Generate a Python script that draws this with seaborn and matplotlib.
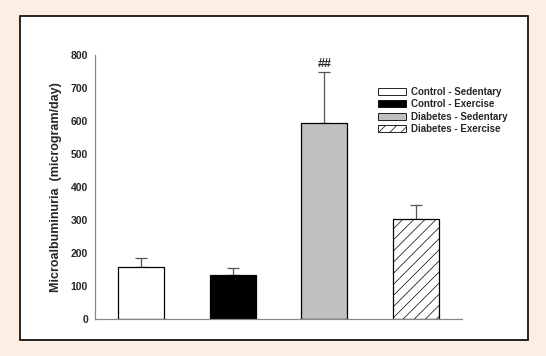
import matplotlib
matplotlib.use('Agg')
import matplotlib.pyplot as plt
import matplotlib.patches as mpatches
import seaborn as sns
import numpy as np

# Data
groups = ['Control - Sedentary', 'Control - Exercise', 'Diabetes - Sedentary', 'Diabetes - Exercise']
means = [159, 133, 594, 303]
sem = [25, 21, 154, 43]
colors = ['#ffffff', '#000000', '#c0c0c0', '#ffffff']

sns.set_style('white')
plt.rcParams['font.family'] = ['Liberation Sans', 'DejaVu Sans']
plt.rcParams['hatch.linewidth'] = 0.5
plt.rcParams['hatch.color'] = '#333333'

fig = plt.figure(figsize=(5.46, 3.56), dpi=100)
fig.patch.set_facecolor('#fdeee3')

# white framed panel
frame = mpatches.Rectangle((0.037, 0.045), 0.93, 0.91, transform=fig.transFigure,
                           facecolor='white', edgecolor='black', linewidth=1.2, zorder=-5)
fig.patches.append(frame)

ax = fig.add_axes([0.174, 0.104, 0.672, 0.741])
ax.set_facecolor('none')

sns.barplot(x=groups, y=means, hue=groups, palette=colors, legend=False,
            width=0.5, edgecolor='black', linewidth=0.9, ax=ax)
ax.patches[3].set_hatch('///')

# upper error bars only
ax.errorbar(np.arange(len(groups)), means, yerr=[np.zeros(len(sem)), sem],
            fmt='none', ecolor='#555555', elinewidth=0.9, capsize=4, capthick=0.9, zorder=1)
for p in ax.patches:
    p.set_zorder(2)

ax.text(2, means[2] + sem[2] + 6, '##', ha='center', va='bottom', fontsize=9, fontweight='bold')

ax.set_xlim(-0.5, 3.5)
ax.set_ylim(0, 800)
ax.set_yticks(range(0, 801, 100))
ax.set_xticks([0, 0.5, 1, 1.5, 2, 2.5, 3])
ax.set_xticklabels([])
ax.tick_params(axis='x', direction='in', length=2, width=0.6, color='#555555')
ax.tick_params(axis='y', direction='out', length=3, width=0.6, color='#777777',
               labelsize=7.5, pad=2)
for lab in ax.get_yticklabels():
    lab.set_fontweight('bold')
ax.set_xlabel('')
ax.set_ylabel('Microalbuminuria  (microgram/day)', fontsize=9, fontweight='bold', labelpad=6)

for s in ['top', 'right']:
    ax.spines[s].set_visible(False)
for s in ['left', 'bottom']:
    ax.spines[s].set_color('#888888')
    ax.spines[s].set_linewidth(0.9)

handles = [mpatches.Patch(facecolor=c, edgecolor='black', linewidth=0.6, label=g)
           for c, g in zip(colors, groups)]
handles[3].set_hatch('///')
leg = fig.legend(handles=handles, loc='upper left', bbox_to_anchor=(0.684, 0.77),
                 frameon=False, fontsize=7, handlelength=2.8, handleheight=0.7,
                 handletextpad=0.6, labelspacing=0.25, borderpad=0)
for t in leg.get_texts():
    t.set_fontweight('bold')

fig.savefig('out.png', dpi=100, facecolor=fig.get_facecolor())
